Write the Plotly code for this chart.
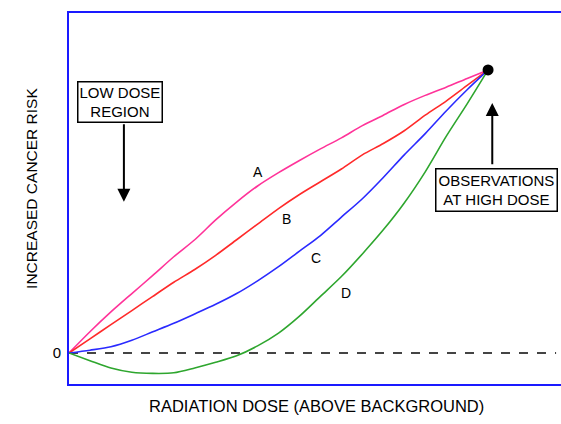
import plotly.graph_objects as go

# Dose (relative to the high-dose observation point)
dose = [0.0, 0.05, 0.1, 0.15, 0.2, 0.25, 0.3, 0.35, 0.4, 0.45, 0.5, 0.55, 0.6, 0.65, 0.7, 0.75, 0.8, 0.85, 0.9, 0.95, 1.0]
# Risk models
risk_a = [0.0, 0.075, 0.145, 0.21, 0.274, 0.34, 0.40, 0.47, 0.533, 0.59, 0.637, 0.68, 0.721, 0.76, 0.803, 0.84, 0.878, 0.91, 0.939, 0.97, 1.0]
risk_b = [0.0, 0.05, 0.10, 0.15, 0.20, 0.25, 0.295, 0.345, 0.40, 0.455, 0.51, 0.56, 0.605, 0.65, 0.70, 0.74, 0.785, 0.84, 0.89, 0.945, 1.0]
risk_c = [0.0, 0.01, 0.022, 0.045, 0.075, 0.105, 0.138, 0.172, 0.21, 0.255, 0.305, 0.36, 0.415, 0.48, 0.545, 0.62, 0.70, 0.775, 0.855, 0.93, 1.0]
risk_d = [0.0, -0.027, -0.053, -0.068, -0.072, -0.07, -0.053, -0.033, -0.01, 0.025, 0.07, 0.13, 0.20, 0.27, 0.35, 0.435, 0.53, 0.64, 0.765, 0.88, 1.0]

curve_names = ["A", "B", "C", "D"]
curve_colors = ["#ff3399", "#ff2a2a", "#2a2aff", "#2ea62e"]
label_x = [0.451, 0.520, 0.589, 0.661]
label_y = [0.640, 0.473, 0.336, 0.212]

high_dose_x = [1.0]
high_dose_y = [1.0]

FONT = "Liberation Sans, Arial, sans-serif"

fig = go.Figure()
for name, ys, col in zip(curve_names, [risk_a, risk_b, risk_c, risk_d], curve_colors):
    fig.add_trace(go.Scatter(x=dose, y=ys, mode="lines", name=name,
                             line=dict(color=col, width=1.6, shape="spline", smoothing=0.8),
                             showlegend=False, hoverinfo="skip"))

fig.add_trace(go.Scatter(x=high_dose_x, y=high_dose_y, mode="markers",
                         marker=dict(color="black", size=11), showlegend=False))

# zero baseline
fig.add_shape(type="line", xref="paper", yref="y", x0=0, x1=0.99, y0=0, y1=0,
              line=dict(color="#444444", width=2, dash="dash"), layer="below")

annotations = []
for name, lx, ly in zip(curve_names, label_x, label_y):
    annotations.append(dict(x=lx, y=ly, xref="x", yref="y", text=name, showarrow=False,
                            font=dict(size=14, color="black", family=FONT)))

# Boxes
annotations.append(dict(x=0.122, y=0.887, xref="x", yref="y", text="LOW DOSE<br>REGION",
                        showarrow=False, font=dict(size=15, color="black", family=FONT),
                        bordercolor="black", borderwidth=1.5, borderpad=1, bgcolor="white"))
annotations.append(dict(x=1.021, y=0.576, xref="x", yref="y", text="OBSERVATIONS<br>AT HIGH DOSE",
                        showarrow=False, font=dict(size=15, color="black", family=FONT),
                        bordercolor="black", borderwidth=1.5, borderpad=2, bgcolor="white"))
# Arrows
annotations.append(dict(x=0.131, y=0.534, xref="x", yref="y", ax=0.131, ay=0.813,
                        axref="x", ayref="y", text="", showarrow=True, arrowhead=2,
                        arrowsize=1.3, arrowwidth=2, arrowcolor="black"))
annotations.append(dict(x=1.01, y=0.883, xref="x", yref="y", ax=1.01, ay=0.661,
                        axref="x", ayref="y", text="", showarrow=True, arrowhead=2,
                        arrowsize=1.3, arrowwidth=2, arrowcolor="black"))
# Axis titles
annotations.append(dict(x=0.504, y=-0.089, xref="paper", yref="paper",
                        text="RADIATION DOSE (ABOVE BACKGROUND)", showarrow=False,
                        font=dict(size=16.5, color="black", family=FONT)))
annotations.append(dict(x=-0.0965, y=0.526, xref="paper", yref="paper",
                        text="INCREASED CANCER RISK", showarrow=False, textangle=-90,
                        font=dict(size=15.5, color="black", family=FONT)))

fig.update_layout(
    width=561, height=424,
    margin=dict(l=69, r=0, t=13, b=40),
    paper_bgcolor="white", plot_bgcolor="white",
    annotations=annotations,
    xaxis=dict(range=[0, 1.174], showgrid=False, zeroline=False, showticklabels=False,
               ticks="", showline=True, linecolor="#1a1aff", linewidth=2, mirror=True,
               fixedrange=True),
    yaxis=dict(range=[-0.1095, 1.201], showgrid=False, zeroline=False,
               tickvals=[0], ticktext=["0"], ticks="", showline=True,
               linecolor="#1a1aff", linewidth=2, mirror=False, ticklabelstandoff=3,
               tickfont=dict(size=15, color="black", family=FONT), fixedrange=True),
    font=dict(family=FONT),
)

fig.write_html("out.html", config={"displayModeBar": False},
               post_script="document.body.style.margin='0';document.body.style.overflow='hidden';")
